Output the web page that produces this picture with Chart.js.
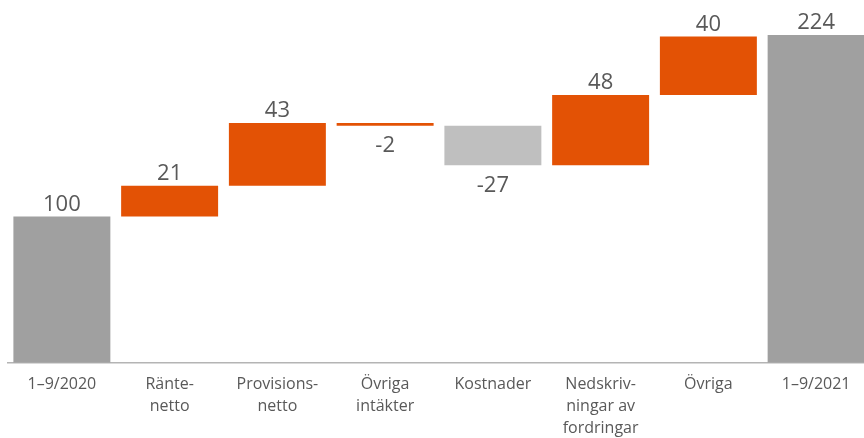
<!DOCTYPE html>
<html>
<head>
<meta charset="utf-8">
<script src="https://cdn.jsdelivr.net/npm/chart.js@4"></script>
<style>
  html, body { margin: 0; padding: 0; background: #fff; overflow: hidden; }
  #wrap { position: relative; width: 870px; height: 450px; }
</style>
</head>
<body>
<div id="wrap"><canvas id="chart"></canvas></div>
<script>
const categories = [
  ['1–9/2020'],
  ['Ränte-', 'netto'],
  ['Provisions-', 'netto'],
  ['Övriga', 'intäkter'],
  ['Kostnader'],
  ['Nedskriv-', 'ningar av', 'fordringar'],
  ['Övriga'],
  ['1–9/2021']
]
const values = [100, 21, 43, -2, -27, 48, 40, 224]
const isTotal = [true, false, false, false, false, false, false, true]
const barColors = ['#a0a0a0', '#e35205', '#e35205', '#e35205', '#bfbfbf', '#e35205', '#e35205', '#a0a0a0']

// build floating [start, end] ranges from the running total
let running = 0
const ranges = values.map((v, i) => {
  if (isTotal[i]) {
    running = v
    return [0, v]
  }
  const start = running
  running += v
  return [start, running]
})

const valueLabels = {
  id: 'valueLabels',
  afterDatasetsDraw(chart) {
    const { ctx } = chart
    const meta = chart.getDatasetMeta(0)
    ctx.save()
    ctx.font = '22px "Open Sans", sans-serif'
    ctx.fillStyle = '#595959'
    ctx.textAlign = 'center'
    meta.data.forEach((bar, i) => {
      const v = values[i]
      const top = Math.min(bar.y, bar.base)
      const bottom = Math.max(bar.y, bar.base)
      if (v < 0) {
        ctx.textBaseline = 'top'
        ctx.fillText(String(v), bar.x, bottom + 9)
      } else {
        ctx.textBaseline = 'bottom'
        ctx.fillText(String(v), bar.x, top - 1)
      }
    })
    ctx.restore()
  }
}

new Chart(document.getElementById('chart'), {
  type: 'bar',
  data: {
    labels: categories,
    datasets: [{
      data: ranges,
      backgroundColor: barColors,
      borderWidth: 0,
      borderSkipped: false,
      categoryPercentage: 0.9,
      barPercentage: 1.0
    }]
  },
  options: {
    responsive: true,
    maintainAspectRatio: false,
    animation: false,
    layout: { padding: { left: 8, right: 0, top: 0, bottom: 0 } },
    plugins: {
      legend: { display: false },
      tooltip: { enabled: false }
    },
    scales: {
      x: {
        grid: { display: false, drawTicks: false },
        border: { display: true, color: '#b4b4b4', width: 1.5 },
        ticks: {
          color: '#595959',
          font: { family: '"Open Sans", sans-serif', size: 16, lineHeight: 1.4 },
          padding: 10,
          maxRotation: 0,
          autoSkip: false
        }
      },
      y: {
        display: false,
        min: 0,
        max: 248
      }
    }
  },
  plugins: [valueLabels]
})
</script>
</body>
</html>
